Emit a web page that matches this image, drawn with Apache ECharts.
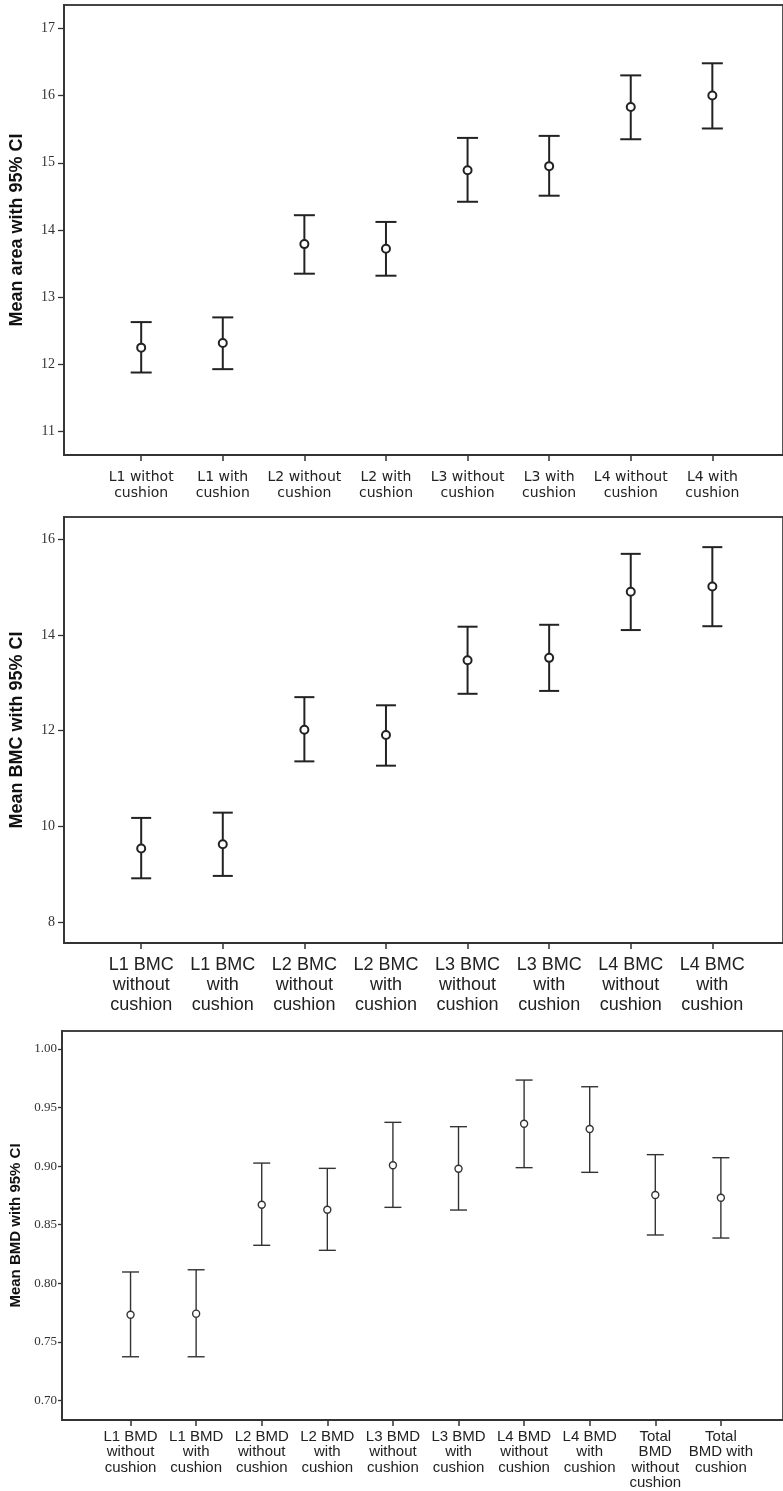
<!DOCTYPE html>
<html>
<head>
<meta charset="utf-8">
<script src="https://cdn.jsdelivr.net/npm/echarts@6.0.0/dist/echarts.min.js"></script>
<style>
  html, body { margin: 0; padding: 0; background: #fff; }
  #chart { width: 783px; height: 1491px; }
</style>
</head>
<body>
<div id="chart"></div>
<script>
// ---------- Panel 1: area ----------
const areaCategories = ['L1 withot\ncushion', 'L1 with\ncushion', 'L2 without\ncushion', 'L2 with\ncushion',
  'L3 without\ncushion', 'L3 with\ncushion', 'L4 without\ncushion', 'L4 with\ncushion'];
const areaMean  = [12.25, 12.32, 13.79, 13.72, 14.89, 14.95, 15.83, 16.00];
const areaLower = [11.88, 11.93, 13.35, 13.32, 14.42, 14.51, 15.35, 15.51];
const areaUpper = [12.63, 12.70, 14.22, 14.12, 15.37, 15.40, 16.30, 16.48];
const areaTicks = [11, 12, 13, 14, 15, 16, 17];

// ---------- Panel 2: BMC ----------
const bmcCategories = ['L1 BMC\nwithout\ncushion', 'L1 BMC\nwith\ncushion', 'L2 BMC\nwithout\ncushion', 'L2 BMC\nwith\ncushion',
  'L3 BMC\nwithout\ncushion', 'L3 BMC\nwith\ncushion', 'L4 BMC\nwithout\ncushion', 'L4 BMC\nwith\ncushion'];
const bmcMean  = [9.54, 9.63, 12.02, 11.91, 13.47, 13.52, 14.90, 15.01];
const bmcLower = [8.92, 8.97, 11.36, 11.27, 12.77, 12.83, 14.10, 14.18];
const bmcUpper = [10.18, 10.29, 12.70, 12.53, 14.17, 14.21, 15.69, 15.83];
const bmcTicks = [8, 10, 12, 14, 16];

// ---------- Panel 3: BMD ----------
const bmdCategories = ['L1 BMD\nwithout\ncushion', 'L1 BMD\nwith\ncushion', 'L2 BMD\nwithout\ncushion', 'L2 BMD\nwith\ncushion',
  'L3 BMD\nwithout\ncushion', 'L3 BMD\nwith\ncushion', 'L4 BMD\nwithout\ncushion', 'L4 BMD\nwith\ncushion',
  'Total\nBMD\nwithout\ncushion', 'Total\nBMD with\ncushion'];
const bmdMean  = [0.7731, 0.7740, 0.8670, 0.8628, 0.9007, 0.8978, 0.9362, 0.9317, 0.8753, 0.8730];
const bmdLower = [0.7372, 0.7372, 0.8324, 0.8281, 0.8648, 0.8625, 0.8987, 0.8947, 0.8412, 0.8386];
const bmdUpper = [0.8096, 0.8115, 0.9026, 0.8981, 0.9374, 0.9337, 0.9735, 0.9678, 0.9098, 0.9072];
const bmdTicks = [0.70, 0.75, 0.80, 0.85, 0.90, 0.95, 1.00];

const yTitles = ['Mean area with 95% CI', 'Mean BMC with 95% CI', 'Mean BMD with 95% CI'];

function rows(mean, lower, upper) {
  return mean.map((m, i) => [i, m, lower[i], upper[i]]);
}
function idx(n) { return Array.from({length: n}, (_, i) => i); }

function errRender(capHalf, r, lw, color) {
  return function (params, api) {
    const x = api.value(0);
    const pM = api.coord([x, api.value(1)]);
    const pLo = api.coord([x, api.value(2)]);
    const pHi = api.coord([x, api.value(3)]);
    const st = { stroke: color, lineWidth: lw, fill: null };
    return {
      type: 'group',
      children: [
        { type: 'line', shape: { x1: pHi[0], y1: pHi[1], x2: pLo[0], y2: pLo[1] }, style: st },
        { type: 'line', shape: { x1: pHi[0] - capHalf, y1: pHi[1], x2: pHi[0] + capHalf, y2: pHi[1] }, style: st },
        { type: 'line', shape: { x1: pLo[0] - capHalf, y1: pLo[1], x2: pLo[0] + capHalf, y2: pLo[1] }, style: st },
        { type: 'circle', shape: { cx: pM[0], cy: pM[1], r: r }, style: { fill: '#fff', stroke: color, lineWidth: lw } }
      ]
    };
  };
}

const axisCol = '#333';

function xAxisDef(gridIndex, cats, min, max, font, size, lh, margin) {
  return {
    type: 'value', gridIndex, min, max,
    splitLine: { show: false },
    axisLine: { show: true, onZero: false, lineStyle: { color: axisCol, width: 1.8 } },
    axisTick: { show: true, customValues: idx(cats.length), length: 6, lineStyle: { color: axisCol, width: 1.5 } },
    axisLabel: {
      show: true, customValues: idx(cats.length),
      formatter: v => cats[Math.round(v)] || '',
      fontFamily: font, fontSize: size, lineHeight: lh, color: '#222', margin
    }
  };
}

function yAxisDef(gridIndex, ticks, min, max, name, nameSize, nameGap, labSize, margin, tickLen, fmt) {
  return {
    type: 'value', gridIndex, min, max,
    name, nameLocation: 'middle', nameRotate: 90, nameGap,
    nameTextStyle: { fontFamily: 'Liberation Sans, Arial, sans-serif', fontWeight: 'bold', fontSize: nameSize, color: '#111' },
    splitLine: { show: false },
    axisLine: { show: true, onZero: false, lineStyle: { color: axisCol, width: 1.8 } },
    axisTick: { show: true, customValues: ticks, length: tickLen, lineStyle: { color: axisCol, width: 1.3 } },
    axisLabel: {
      show: true, customValues: ticks, formatter: fmt,
      fontFamily: 'Liberation Serif, serif', fontSize: labSize, color: '#333', margin
    }
  };
}

const chart = echarts.init(document.getElementById('chart'), null, { renderer: 'canvas' });

const gridBorder = { show: true, borderColor: '#444', borderWidth: 1.8, backgroundColor: 'transparent' };

chart.setOption({
  animation: false,
  backgroundColor: '#fff',
  grid: [
    Object.assign({ left: 64, top: 5, right: -3, height: 450 }, gridBorder),
    Object.assign({ left: 64, top: 517, right: -3, height: 426 }, gridBorder),
    Object.assign({ left: 60, top: 1031, right: -3, height: 389 }, gridBorder)
  ],
  xAxis: [
    xAxisDef(0, areaCategories, -0.946, 7.866, 'DejaVu Sans, sans-serif', 14, 16.5, 14),
    xAxisDef(1, bmcCategories, -0.946, 7.866, 'Liberation Sans, Arial, sans-serif', 18, 20, 12),
    xAxisDef(2, bmdCategories, -1.045, 9.947, 'Liberation Sans, Arial, sans-serif', 15, 15.5, 9)
  ],
  yAxis: [
    yAxisDef(0, areaTicks, 10.653, 17.347, yTitles[0], 18, 38, 14, 9, 6, v => String(Math.round(v))),
    yAxisDef(1, bmcTicks, 7.570, 16.459, yTitles[1], 18, 38, 14, 9, 6, v => String(Math.round(v))),
    yAxisDef(2, bmdTicks, 0.6832, 1.0154, yTitles[2], 15, 39, 13, 5, 4, v => v.toFixed(2))
  ],
  series: [
    { type: 'custom', xAxisIndex: 0, yAxisIndex: 0, renderItem: errRender(10.5, 4, 2, '#222'),
      data: rows(areaMean, areaLower, areaUpper), encode: { x: 0, y: [1, 2, 3] } },
    { type: 'custom', xAxisIndex: 1, yAxisIndex: 1, renderItem: errRender(10, 4, 2, '#222'),
      data: rows(bmcMean, bmcLower, bmcUpper), encode: { x: 0, y: [1, 2, 3] } },
    { type: 'custom', xAxisIndex: 2, yAxisIndex: 2, renderItem: errRender(8.5, 3.5, 1.4, '#333'),
      data: rows(bmdMean, bmdLower, bmdUpper), encode: { x: 0, y: [1, 2, 3] } }
  ]
});
</script>
</body>
</html>
